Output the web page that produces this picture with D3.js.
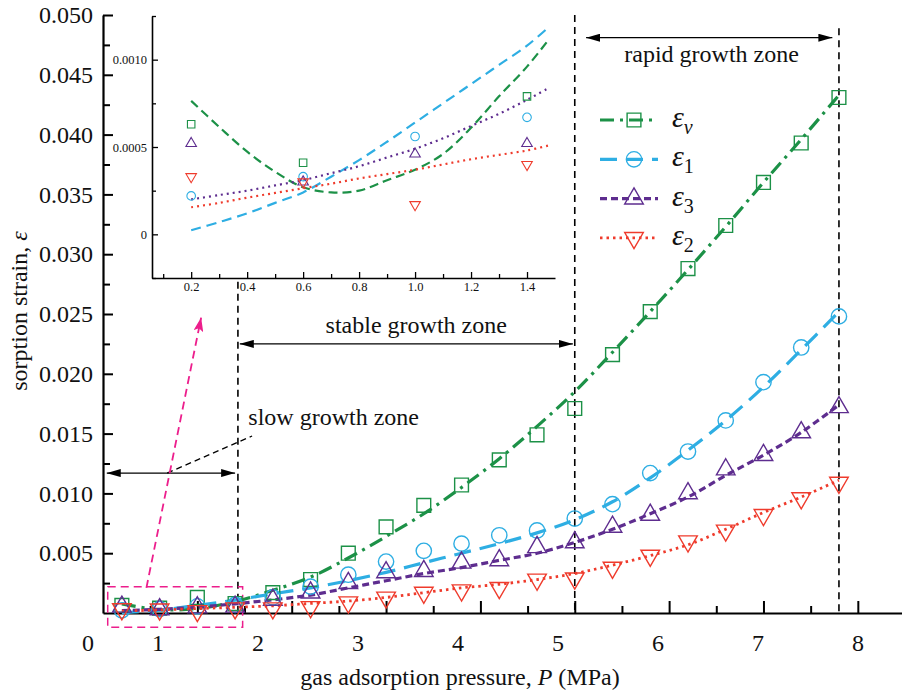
<!DOCTYPE html>
<html>
<head>
<meta charset="utf-8">
<script src="https://cdn.jsdelivr.net/npm/d3@7/dist/d3.min.js"></script>
<style>
  body { margin: 0; background: #fff; }
  text { font-family: "Liberation Serif", "Times New Roman", serif; fill: #111; }
</style>
</head>
<body>
<div id="chart"></div>
<script>
const width = 902, height = 694;

// gas pressure (MPa) of every measurement
const pressure = [0.2, 0.6, 1.0, 1.4, 1.8, 2.2, 2.6, 3.0, 3.4, 3.8, 4.2, 4.6, 5.0, 5.4, 5.8, 6.2, 6.6, 7.0, 7.4, 7.8];
// measured strains
const strainV = [0.00063, 0.00041, 0.0013, 0.00079, 0.0017, 0.0028, 0.0050, 0.0072, 0.0090, 0.0107, 0.0128, 0.0149, 0.0171, 0.0216, 0.0252, 0.0288, 0.0324, 0.0360, 0.0393, 0.0431];
const strain1 = [0.00022, 0.00033, 0.00056, 0.00067, 0.0013, 0.0022, 0.0032, 0.0043, 0.0052, 0.0058, 0.0065, 0.0069, 0.0079, 0.0091, 0.0117, 0.0135, 0.0161, 0.0193, 0.0222, 0.0248];
const strain3 = [0.00052, 0.00030, 0.00046, 0.00052, 0.0011, 0.0017, 0.0025, 0.0034, 0.0035, 0.0042, 0.0044, 0.0055, 0.0059, 0.0072, 0.0082, 0.0100, 0.0120, 0.0132, 0.0151, 0.0172];
const strain2 = [0.00033, 0.00030, 0.00017, 0.00040, 0.0004, 0.0005, 0.0009, 0.0013, 0.0017, 0.0019, 0.0021, 0.0028, 0.0029, 0.0038, 0.0048, 0.0060, 0.0069, 0.0082, 0.0096, 0.0109];
// fitted curves, read at the same pressures
const fitV = [0.00076, 0.00028, 0.00037, 0.00096, 0.0019, 0.0030, 0.0046, 0.0064, 0.0083, 0.0105, 0.0129, 0.0156, 0.0185, 0.0218, 0.0252, 0.0287, 0.0323, 0.0360, 0.0396, 0.0433];
const fit1 = [0.00002, 0.00024, 0.00064, 0.00108, 0.0016, 0.0021, 0.0027, 0.0034, 0.0042, 0.0050, 0.0058, 0.0067, 0.0078, 0.0093, 0.0113, 0.0136, 0.0161, 0.0189, 0.0220, 0.0252];
const fit3 = [0.00020, 0.00031, 0.00049, 0.00077, 0.0011, 0.0015, 0.0021, 0.0027, 0.0033, 0.0038, 0.0044, 0.0050, 0.0059, 0.0070, 0.0083, 0.0097, 0.0115, 0.0132, 0.0151, 0.0174];
const fit2 = [0.000155, 0.00026, 0.00037, 0.00048, 0.0006, 0.0008, 0.0010, 0.0013, 0.0017, 0.0021, 0.0024, 0.0028, 0.0033, 0.0040, 0.0048, 0.0057, 0.0070, 0.0084, 0.0097, 0.0111];

// inset: low pressure close-up of the fits
const insetPressure = [0.2, 0.3, 0.4, 0.5, 0.6, 0.7, 0.8, 0.9, 1.0, 1.1, 1.2, 1.3, 1.4, 1.48];
const insetFitV = [0.000764, 0.000615, 0.000473, 0.000358, 0.00027, 0.00024, 0.00025, 0.00031, 0.00037, 0.00046, 0.00061, 0.00079, 0.00096, 0.00112];
const insetFit1 = [0.000023, 0.00007, 0.00012, 0.00018, 0.00024, 0.00033, 0.000425, 0.00053, 0.00064, 0.00075, 0.00086, 0.00097, 0.00108, 0.00119];
const insetFit3 = [0.0002, 0.000225, 0.00025, 0.00028, 0.00031, 0.00035, 0.00039, 0.00044, 0.00049, 0.00055, 0.00062, 0.00069, 0.00077, 0.00084];
const insetFit2 = [0.000155, 0.00018, 0.00021, 0.000237, 0.000264, 0.00029, 0.00032, 0.000345, 0.00037, 0.0004, 0.00043, 0.000455, 0.00048, 0.00051];

const xTickLabels = ["1", "2", "3", "4", "5", "6", "7", "8"];
const zoneNames = ["slow growth zone", "stable growth zone", "rapid growth zone"];
const zoneEdges = [1.43, 5.0, 7.8];

const series = [
  { sub: "v", italicSub: true, data: strainV, fit: fitV, inset: insetFitV, color: "#1c9147", shape: "square", dash: "14,6,3,6", insetDash: "9,5" },
  { sub: "1", data: strain1, fit: fit1, inset: insetFit1, color: "#2eaee3", shape: "circle", dash: "17,9", insetDash: "10,6" },
  { sub: "3", data: strain3, fit: fit3, inset: insetFit3, color: "#5e2d8f", shape: "triangle", dash: "7,4", insetDash: "2,4" },
  { sub: "2", data: strain2, fit: fit2, inset: insetFit2, color: "#ef3b2c", shape: "down", dash: "2.5,4", insetDash: "2,4" }
];

// Scales
const x = d3.scaleLinear().domain([0, 8.5]).range([103, 905]);
const y = d3.scaleLinear().domain([0, 0.05]).range([613, 15]);
// the printed tick numbers sit on their own spacing
const xLabelPos = d3.scaleLinear().domain([0, 8]).range([58, 858]);
const ix = d3.scaleLinear().domain([0.06, 1.5]).range([152, 555]);
const iy = d3.scaleLinear().domain([-0.00025, 0.00125]).range([278, 16]);

const svg = d3.select("#chart").append("svg")
  .attr("width", width)
  .attr("height", height)
  .style("background", "#fff");

const defs = svg.append("defs");
defs.append("marker")
  .attr("id", "head").attr("viewBox", "0 0 14 8")
  .attr("refX", 14).attr("refY", 4)
  .attr("markerWidth", 14).attr("markerHeight", 8)
  .attr("markerUnits", "userSpaceOnUse")
  .attr("orient", "auto-start-reverse")
  .append("path").attr("d", "M0,0L14,4L0,8Z").attr("fill", "#000");
defs.append("marker")
  .attr("id", "pinkHead").attr("viewBox", "0 0 14 10")
  .attr("refX", 14).attr("refY", 5)
  .attr("markerWidth", 14).attr("markerHeight", 10)
  .attr("markerUnits", "userSpaceOnUse")
  .attr("orient", "auto")
  .append("path").attr("d", "M0,0L14,5L0,10L3,5Z").attr("fill", "#ec1e8c");
defs.append("clipPath").attr("id", "insetClip")
  .append("rect").attr("x", 152).attr("y", 16).attr("width", 403).attr("height", 262);

const symbolType = { square: d3.symbolSquare, circle: d3.symbolCircle, triangle: d3.symbolTriangle, down: d3.symbolTriangle };
const mainSize = { square: 190, circle: 185, triangle: 150, down: 150 };
const insetSize = { square: 56, circle: 58, triangle: 48, down: 48 };

function marker(g, shape, cx, cy, sizes, color, sw) {
  g.append("path")
    .attr("d", d3.symbol().type(symbolType[shape]).size(sizes[shape])())
    .attr("transform", `translate(${cx},${cy})` + (shape === "down" ? " rotate(180)" : ""))
    .attr("fill", "none")
    .attr("stroke", color)
    .attr("stroke-width", sw);
}

// ---- main axes
const axisX = svg.append("g").attr("transform", `translate(0,${y(0)})`)
  .call(d3.axisBottom(x).tickValues(d3.range(1, 9)).tickSize(-12).tickSizeOuter(0).tickFormat(""));
svg.append("g").attr("transform", `translate(0,${y(0)})`)
  .call(d3.axisBottom(x).tickValues(d3.range(0, 9).map(d => d + 0.5)).tickSize(-7).tickSizeOuter(0).tickFormat(""))
  .select(".domain").remove();
axisX.select(".domain").attr("stroke-width", 2.2);

const yTicks = d3.range(1, 11).map(i => i * 0.005);
const axisY = svg.append("g").attr("transform", `translate(${x(0)},0)`)
  .call(d3.axisLeft(y).tickValues(yTicks).tickSize(-10).tickSizeOuter(0).tickPadding(10).tickFormat(d3.format(".3f")));
svg.append("g").attr("transform", `translate(${x(0)},0)`)
  .call(d3.axisLeft(y).tickValues(d3.range(0, 10).map(i => i * 0.005 + 0.0025)).tickSize(-7).tickSizeOuter(0).tickFormat(""))
  .select(".domain").remove();
axisY.select(".domain").attr("stroke-width", 2.2);
svg.selectAll(".tick line").attr("stroke-width", 2);
axisY.selectAll("text").style("font-size", "24px").style("font-family", "Liberation Serif").attr("fill", "#111");

svg.append("g").selectAll("text")
  .data(xTickLabels)
  .enter().append("text")
  .attr("x", d => xLabelPos(+d))
  .attr("y", 651)
  .attr("text-anchor", "middle")
  .style("font-size", "24px")
  .text(d => d);
svg.append("text").attr("x", x(0) - 15).attr("y", 651)
  .attr("text-anchor", "middle").style("font-size", "24px").text("0");

const xTitle = svg.append("text").attr("x", 460).attr("y", 685)
  .attr("text-anchor", "middle").style("font-size", "24px");
xTitle.append("tspan").text("gas adsorption pressure, ");
xTitle.append("tspan").style("font-style", "italic").text("P");
xTitle.append("tspan").text(" (MPa)");

const yTitle = svg.append("text").attr("transform", "translate(27,311) rotate(-90)")
  .attr("text-anchor", "middle").style("font-size", "24px");
yTitle.append("tspan").text("sorption strain, ");
yTitle.append("tspan").style("font-style", "italic").text("ε");

// ---- zone boundaries and arrows
const zoneTop = [0.0277, 0.05, 0.0489];
svg.selectAll("line.zone")
  .data(zoneEdges)
  .enter().append("line")
  .attr("class", "zone")
  .attr("x1", d => x(d)).attr("x2", d => x(d))
  .attr("y1", (d, i) => y(zoneTop[i])).attr("y2", y(0))
  .attr("stroke", "#000").attr("stroke-width", 1.6).attr("stroke-dasharray", "7,5");

const zoneArrows = [
  { from: 0.04, to: 1.4, at: 0.0117 },
  { from: 1.45, to: 4.98, at: 0.0225 },
  { from: 5.12, to: 7.73, at: 0.0481 }
];
svg.selectAll("line.arrow")
  .data(zoneArrows)
  .enter().append("line")
  .attr("x1", d => x(d.from)).attr("x2", d => x(d.to))
  .attr("y1", d => y(d.at)).attr("y2", d => y(d.at))
  .attr("stroke", "#000").attr("stroke-width", 1.3)
  .attr("marker-start", "url(#head)").attr("marker-end", "url(#head)");

const zoneText = [
  { px: 1.54, py: 0.0157, anchor: "start" },
  { px: 3.32, py: 0.0234, anchor: "middle" },
  { px: 6.45, py: 0.0461, anchor: "middle" }
];
svg.selectAll("text.zoneName")
  .data(zoneNames)
  .enter().append("text")
  .attr("x", (d, i) => x(zoneText[i].px))
  .attr("y", (d, i) => y(zoneText[i].py))
  .attr("text-anchor", (d, i) => zoneText[i].anchor)
  .style("font-size", "24px")
  .text(d => d);

// leader from the slow-zone arrow to its label
svg.append("line")
  .attr("x1", x(0.68)).attr("y1", y(0.0117))
  .attr("x2", x(1.58)).attr("y2", y(0.0148))
  .attr("stroke", "#000").attr("stroke-width", 1.3).attr("stroke-dasharray", "6,4");

// pink box around the close-up region and arrow to the inset
svg.append("rect")
  .attr("x", x(0.05)).attr("y", y(0.0022))
  .attr("width", x(1.48) - x(0.05)).attr("height", y(-0.0012) - y(0.0022))
  .attr("fill", "none").attr("stroke", "#ec1e8c").attr("stroke-width", 1.5).attr("stroke-dasharray", "8,5");
svg.append("line")
  .attr("x1", x(0.46)).attr("y1", y(0.0021))
  .attr("x2", x(1.04)).attr("y2", y(0.0247))
  .attr("stroke", "#ec1e8c").attr("stroke-width", 1.8).attr("stroke-dasharray", "8,5")
  .attr("marker-end", "url(#pinkHead)");

// ---- main curves and points
const mainLine = d3.line().curve(d3.curveCatmullRom).x((d, i) => x(pressure[i])).y(d => y(d));
series.forEach(s => {
  svg.append("path")
    .attr("d", mainLine(s.fit))
    .attr("fill", "none")
    .attr("stroke", s.color)
    .attr("stroke-width", s.shape === "down" ? 2.8 : 3.2)
    .attr("stroke-dasharray", s.dash);
});
series.forEach(s => {
  const g = svg.append("g");
  s.data.forEach((v, i) => marker(g, s.shape, x(pressure[i]), y(v), mainSize, s.color, 1.4));
});

// ---- inset
const inset = svg.append("g");
inset.append("g").attr("transform", "translate(0,278)")
  .call(d3.axisBottom(ix).tickValues([0.2, 0.4, 0.6, 0.8, 1.0, 1.2, 1.4]).tickSize(-6).tickSizeOuter(0).tickPadding(4).tickFormat(d3.format(".1f")));
inset.append("g").attr("transform", "translate(0,278)")
  .call(d3.axisBottom(ix).tickValues([0.1, 0.3, 0.5, 0.7, 0.9, 1.1, 1.3]).tickSize(-4).tickSizeOuter(0).tickFormat(""))
  .select(".domain").remove();
inset.append("g").attr("transform", `translate(${ix(0.06)},0)`)
  .call(d3.axisLeft(iy).tickValues([0, 0.0005, 0.001]).tickSize(-6).tickSizeOuter(0).tickPadding(5)
    .tickFormat(d => d === 0 ? "0" : d3.format(".4f")(d)));
inset.append("g").attr("transform", `translate(${ix(0.06)},0)`)
  .call(d3.axisLeft(iy).tickValues([-0.00025, 0.00025, 0.00075, 0.00125]).tickSize(-4).tickSizeOuter(0).tickFormat(""))
  .select(".domain").remove();
inset.selectAll(".domain").attr("stroke-width", 1.6);
inset.selectAll(".tick line").attr("stroke-width", 1.3);
inset.selectAll("text").style("font-size", "12.5px").style("font-family", "Liberation Serif").attr("fill", "#111");

const insetPlot = inset.append("g").attr("clip-path", "url(#insetClip)");
const insetLine = d3.line().curve(d3.curveCatmullRom).x((d, i) => ix(insetPressure[i])).y(d => iy(d));
series.forEach(s => {
  insetPlot.append("path")
    .attr("d", insetLine(s.inset))
    .attr("fill", "none")
    .attr("stroke", s.color)
    .attr("stroke-width", 2.2)
    .attr("stroke-dasharray", s.insetDash);
});
series.forEach(s => {
  s.data.forEach((v, i) => {
    if (pressure[i] <= 1.4) marker(insetPlot, s.shape, ix(pressure[i]), iy(v), insetSize, s.color, 1.1);
  });
});

// ---- legend
const legend = svg.append("g");
series.forEach((s, i) => {
  const ly = 120 + i * 39.3;
  legend.append("line")
    .attr("x1", 600).attr("x2", 658).attr("y1", ly).attr("y2", ly)
    .attr("stroke", s.color).attr("stroke-width", s.shape === "down" ? 2.8 : 3.2)
    .attr("stroke-dasharray", s.dash);
  marker(legend, s.shape, 634, ly, mainSize, s.color, 1.4);
  const t = legend.append("text").attr("x", 672).attr("y", ly + 7).style("font-size", "30px");
  t.append("tspan").style("font-style", "italic").text("ε");
  t.append("tspan").attr("dy", 7).style("font-size", "20px")
    .style("font-style", s.italicSub ? "italic" : "normal").text(s.sub);
});
</script>
</body>
</html>
